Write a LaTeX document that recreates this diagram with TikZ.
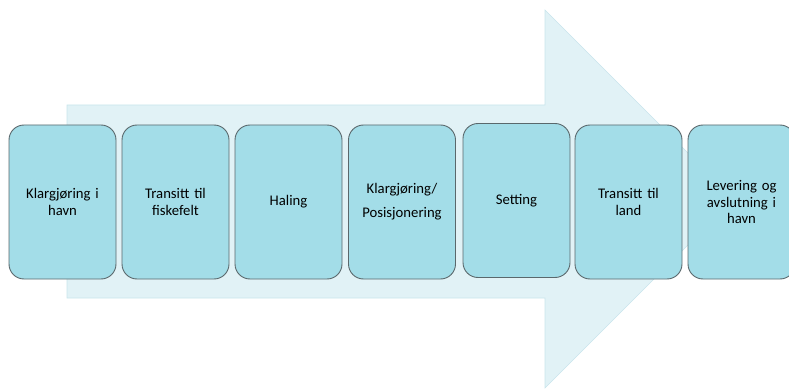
\documentclass[tikz,border=0pt]{standalone}
\usepackage{fontspec}
\setmainfont{Carlito}
\definecolor{boxfill}{HTML}{A3DDE8}
\definecolor{arrowfill}{HTML}{E1F2F6}
\definecolor{arrowline}{HTML}{C9E5EC}
\definecolor{boxline}{HTML}{5A686C}
\begin{document}
\begin{tikzpicture}[x=1pt,y=-1pt,
  stage/.style={draw=boxline, line width=0.9pt, fill=boxfill, rounded corners=15pt,
    minimum width=107pt, minimum height=154pt, text width=100pt, align=center,
    font=\fontsize{14.7}{16.5}\selectfont, inner sep=0pt},
  bigarrow/.style={fill=arrowfill, draw=arrowline, line width=0.6pt}]
\useasboundingbox (0,0) rectangle (789,390);
\path[bigarrow] (67,105) -- (545,105) -- (545,10) -- (734,199) -- (545,388) -- (545,298) -- (67,298) -- cycle;
\node[stage] (s1) at (62.5,202) {Klargjøring i\\havn};
\node[stage] (s2) at (175.5,202) {Transitt til\\fiskefelt};
\node[stage] (s3) at (288.5,202) {Haling};
\node[stage] (s4) at (402,202) {Klargjøring/\\[7.5pt]Posisjonering};
\node[stage] (s5) at (516.5,200.5) {Setting};
\node[stage] (s6) at (628.5,202) {Transitt til\\land};
\node[stage] (s7) at (741.5,202) {Levering og\\avslutning i\\havn};
\end{tikzpicture}
\end{document}
